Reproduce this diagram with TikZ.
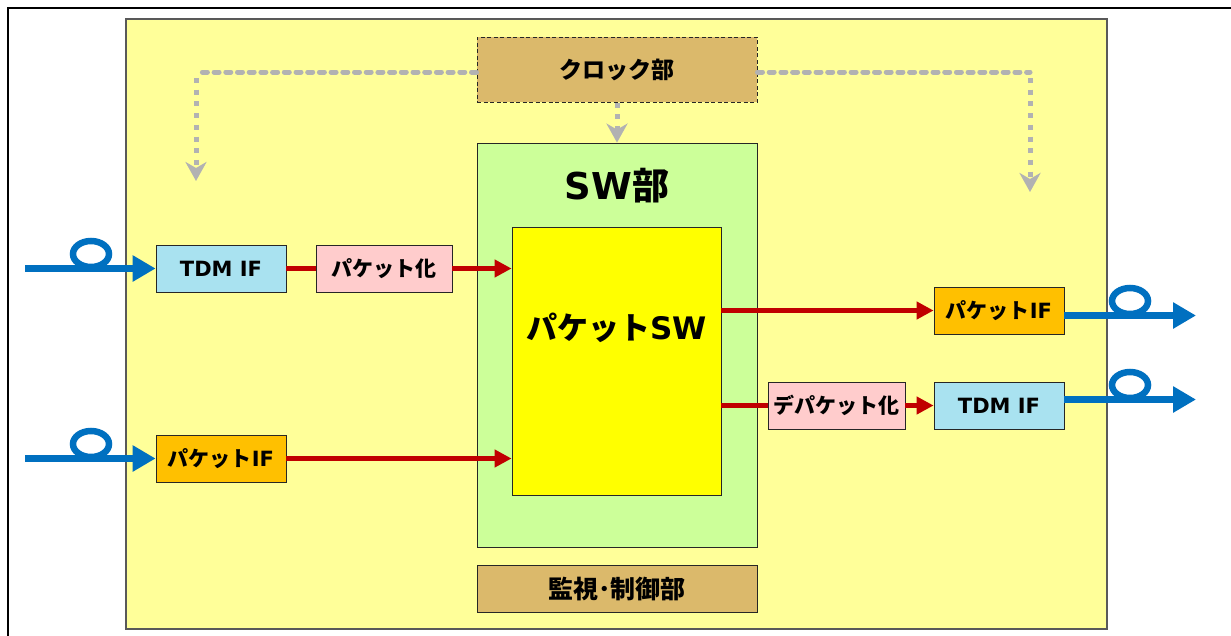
\documentclass[tikz,border=0pt]{standalone}
\usepackage{fontspec}
\setmainfont{DejaVu Sans}
\newfontfamily\jpf{Noto Sans CJK JP}[UprightFont=* Black,BoldFont=* Black]
\newcommand\J[1]{{\jpf #1}}
\usetikzlibrary{arrows.meta}
\definecolor{bgyellow}{HTML}{FFFF99}
\definecolor{clockbrown}{HTML}{DBB96B}
\definecolor{swgreen}{HTML}{CCFF99}
\definecolor{pswyellow}{HTML}{FFFF00}
\definecolor{tdmblue}{HTML}{A9E2F0}
\definecolor{pkpink}{HTML}{FFCCCC}
\definecolor{iforange}{HTML}{FFC000}
\definecolor{redline}{HTML}{C00000}
\definecolor{fiber}{HTML}{0070C0}
\definecolor{clkgray}{HTML}{B2B2B2}
\tikzset{
  blk/.style={draw=black!85, line width=0.8pt, inner sep=0pt, align=center, font=\bfseries\fontsize{21}{25}\selectfont},
  smallbox/.style={blk, minimum width=130pt, minimum height=47pt},
  redarrow/.style={draw=redline, line width=5.5pt, -{Triangle[length=17pt,width=17pt]}},
  redline/.style={draw=redline, line width=5.5pt},
  fiberline/.style={draw=fiber, line width=6.5pt, -{Triangle[length=23pt,width=25pt]}},
  fiberloop/.style={draw=fiber, line width=6.5pt},
  clkh/.style={draw=clkgray, line width=5pt, line cap=round, dash pattern=on 5pt off 6.7pt},
  clkv/.style={draw=clkgray, line width=5pt, dash pattern=on 5pt off 6.7pt, -{Stealth[length=19pt,width=21pt,inset=6pt]}},
}
\begin{document}
\begin{tikzpicture}[x=1pt,y=-1pt]
\clip (0,0) rectangle (1231,635);
\fill[white] (0,0) rectangle (1231,635);
% outer frame (cut off at right and bottom)
\draw[black, line width=1.6pt] (8,8) rectangle (1260,660);
% main board
\draw[fill=bgyellow, draw=black!65, line width=1.2pt] (126,19) rectangle (1107,629);
% blocks
\node[blk, dash pattern=on 4pt off 2.5pt, line width=1pt, fill=clockbrown, minimum width=280pt, minimum height=65pt, font=\bfseries\fontsize{23}{27}\selectfont] (clock) at (617,69.5) {\J{クロック部}};
\node[blk, fill=swgreen, minimum width=280pt, minimum height=404pt] (sw) at (617,345) {};
\node[font=\bfseries\fontsize{37}{42}\selectfont] (swlabel) at (617,186) {SW\J{部}};
\node[blk, fill=pswyellow, minimum width=209pt, minimum height=268pt] (psw) at (616.5,361) {};
\node[font=\bfseries\fontsize{31}{35}\selectfont] (pswlabel) at (616.5,328) {\J{パケット}SW};
\node[blk, fill=clockbrown, minimum width=280pt, minimum height=47pt, font=\bfseries\fontsize{25}{29}\selectfont] (kanshi) at (617,588.5) {\J{監視･制御部}};
\node[smallbox, fill=tdmblue] (tdm1) at (221,268.5) {TDM IF};
\node[smallbox, fill=pkpink, minimum width=136pt] (pk1) at (384,268.5) {\J{パケット化}};
\node[smallbox, fill=iforange] (pif1) at (221,458.5) {\J{パケット}IF};
\node[smallbox, fill=iforange] (pif2) at (999,310.5) {\J{パケット}IF};
\node[smallbox, fill=pkpink, minimum width=137pt] (dpk) at (836.5,405.5) {\J{デパケット化}};
\node[smallbox, fill=tdmblue] (tdm2) at (999,405.5) {TDM IF};
% clock distribution
\coordinate (cl) at (196,72);
\coordinate (cld) at (196,181);
\coordinate (cr) at (1030,72);
\coordinate (crd) at (1030,192);
\draw[clkh] (clock.west |- cl) -- (cl);
\draw[clkh] (clock.east |- cr) -- (cr);
\draw[clkv] ([yshift=-6pt]cl) -- (cld);
\draw[clkv] ([yshift=-6pt]cr) -- (crd);
\draw[clkv] (clock.south) -- (sw.north);
% data paths
\draw[redline] (tdm1.east) -- (pk1.west);
\draw[redarrow] (pk1.east) -- (pk1.east -| psw.west);
\draw[redarrow] (pif1.east) -- (pif1.east -| psw.west);
\draw[redarrow] (pif2.west -| psw.east) -- (pif2.west);
\draw[redline] (dpk.west -| psw.east) -- (dpk.west);
\draw[redarrow] (dpk.east) -- (tdm2.west);
% fibers
\coordinate (in1) at (25,268.5);
\coordinate (in2) at (25,458.5);
\coordinate (out1) at (1196,315.5);
\coordinate (out2) at (1196,399.5);
\draw[fiberloop] (91,254) ellipse [x radius=18, y radius=13];
\draw[fiberloop] (91,444) ellipse [x radius=18, y radius=13];
\draw[fiberloop] (1130,301) ellipse [x radius=18, y radius=13];
\draw[fiberloop] (1130,385) ellipse [x radius=18, y radius=13];
\draw[fiberline] (in1) -- (tdm1.west);
\draw[fiberline] (in2) -- (pif1.west);
\draw[fiberline] ([yshift=-5pt]pif2.east) -- (out1);
\draw[fiberline] ([yshift=6pt]tdm2.east) -- (out2);
\end{tikzpicture}
\end{document}
